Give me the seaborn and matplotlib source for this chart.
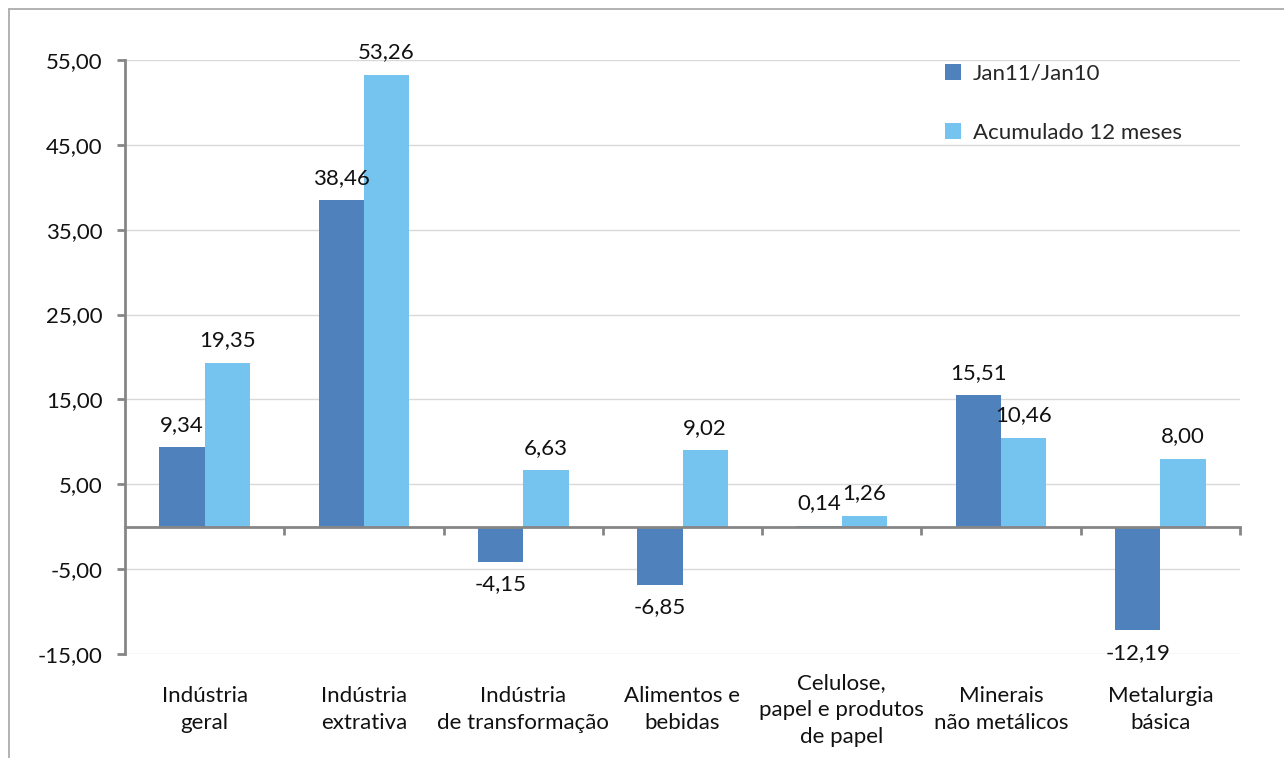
import pandas as pd
import matplotlib.pyplot as plt
import matplotlib.transforms as mtransforms
from matplotlib.lines import Line2D
import seaborn as sns

# Data
categorias = [
    "Indústria\ngeral",
    "Indústria\nextrativa",
    "Indústria\nde transformação",
    "Alimentos e\nbebidas",
    "Celulose,\npapel e produtos\nde papel",
    "Minerais\nnão metálicos",
    "Metalurgia\nbásica",
]
series = ["Jan11/Jan10", "Acumulado 12 meses"]
jan11_jan10 = [9.34, 38.46, -4.15, -6.85, 0.14, 15.51, -12.19]
acumulado_12m = [19.35, 53.26, 6.63, 9.02, 1.26, 10.46, 8.00]
y_ticks = [-15, -5, 5, 15, 25, 35, 45, 55]

cores = ["#4F81BD", "#75C4F0"]
FS = 16

df = pd.DataFrame({
    "categoria": categorias * 2,
    "serie": [series[0]] * len(categorias) + [series[1]] * len(categorias),
    "valor": jan11_jan10 + acumulado_12m,
})

sns.set_theme(style="white")
plt.rcParams["font.family"] = ["Lato", "DejaVu Sans"]

fig = plt.figure(figsize=(12.84, 7.58), dpi=100)
ax = fig.add_axes([125 / 1284, 1 - 654 / 758, (1240 - 125) / 1284, (654 - 60) / 758])

sns.barplot(data=df, x="categoria", y="valor", hue="serie", palette=cores,
            width=0.57, saturation=1, linewidth=0, ax=ax, legend=True)

ax.set_ylim(-15, 55)
ax.set_xlim(-0.5, len(categorias) - 0.5)
ax.set_yticks(y_ticks)
ax.set_yticklabels([f"{v:.2f}".replace(".", ",") for v in y_ticks], fontsize=FS, color="#111111")
ax.yaxis.grid(True, color="#D9D9D9", linewidth=1)
ax.set_axisbelow(True)
ax.set_xlabel("")
ax.set_ylabel("")

# axis styling
for s in ["top", "right"]:
    ax.spines[s].set_visible(False)
ax.spines["left"].set_color("#868686")
ax.spines["left"].set_linewidth(2)
ax.spines["bottom"].set_position(("data", 0))
ax.spines["bottom"].set_color("#868686")
ax.spines["bottom"].set_linewidth(2)
ax.tick_params(axis="y", direction="out", length=6, width=2, color="#868686", pad=10, left=True)
ax.set_xticks(range(len(categorias)))
ax.set_xticklabels([])
ax.tick_params(axis="x", which="major", length=0)
ax.set_xticks([i + 0.5 for i in range(len(categorias))], minor=True)
ax.tick_params(axis="x", which="minor", direction="out", length=6, width=2, color="#868686", bottom=True)

# category labels under the plot
trans = mtransforms.blended_transform_factory(ax.transData, ax.transAxes)
for i, cat in enumerate(categorias):
    ax.text(i, -0.094, cat, transform=trans, ha="center", va="center",
            multialignment="center", fontsize=FS, linespacing=1.45, color="#111111")

# value labels
for cont in ax.containers:
    vals = cont.datavalues
    ax.bar_label(cont, labels=[f"{v:.2f}".replace(".", ",") for v in vals],
                 padding=9, fontsize=FS, color="#111111")

# legend
handles, labels = ax.get_legend_handles_labels()
ax.legend(handles, labels, loc="upper left", bbox_to_anchor=(945 / 1284, 1 - 64 / 758),
          bbox_transform=fig.transFigure, frameon=False, fontsize=FS,
          handlelength=0.7, handleheight=0.7, handletextpad=0.55, labelspacing=1.75,
          borderpad=0, borderaxespad=0)

# outer frame (left and top edges visible)
fig.add_artist(Line2D([9 / 1284, 9 / 1284], [0, 1 - 9 / 758], transform=fig.transFigure,
                      color="#A6A6A6", linewidth=1.2))
fig.add_artist(Line2D([9 / 1284, 1], [1 - 9 / 758, 1 - 9 / 758], transform=fig.transFigure,
                      color="#A6A6A6", linewidth=1.2))

fig.savefig("out.png", dpi=100)
